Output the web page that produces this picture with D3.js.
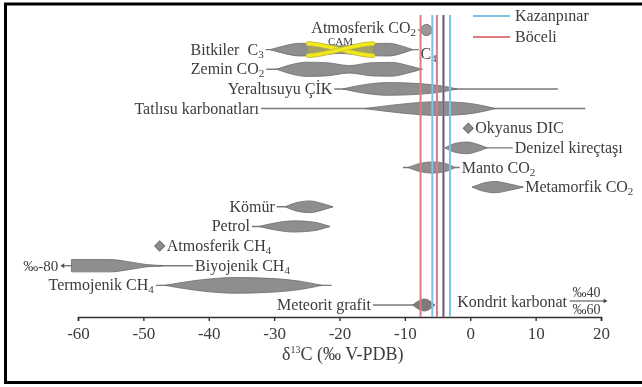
<!DOCTYPE html>
<html>
<head>
<meta charset="utf-8">
<script src="https://cdn.jsdelivr.net/npm/d3@7"></script>
<style>
body { margin: 0; background: #fff; }
text { font-family: "Liberation Serif", "Times New Roman", serif; fill: #3c3c3c; }
</style>
</head>
<body>
<div id="container"></div>
<script>
let w = 642;
let h = 387;

// rows top to bottom
let rows = ["atmCO2", "c3", "soil", "gw", "fresh", "ocean", "lime", "mantle", "meta",
            "coal", "oil", "atmCH4", "bio", "thermo", "meteor"];

// d13C axis ticks
let ticks = [-60, -50, -40, -30, -20, -10, 0, 10, 20];

// whisker lines [row, from, to]
let whiskers = [
  ["atmCO2", -8.0, -6.7],
  ["c3", -31.3, -7.9],
  ["soil", -31.2, -7.3],
  ["gw", -20.8, 13.4],
  ["fresh", -32.0, 17.6],
  ["lime", -3.9, 6.5],
  ["mantle", -10.3, -1.6],
  ["meta", 0.3, 8.1],
  ["coal", -29.6, -21.0],
  ["oil", -33.4, -21.5],
  ["bio", -61.0, -42.4],
  ["thermo", -48.1, -21.2],
  ["meteor", -14.9, -5.4]
];

// distribution profiles [d13C, relative thickness]
let c3Profile = [[-30.6, 0], [-28.5, 0.5], [-26, 0.85], [-23, 0.75], [-20, 0.5], [-16.5, 0.75], [-12.5, 0.85], [-10.5, 0.5], [-8.8, 0]];
let soilProfile = [[-29.6, 0], [-27.5, 0.6], [-25, 0.95], [-22, 0.88], [-18.5, 0.5], [-15, 0.88], [-12, 0.92], [-9.5, 0.5], [-7.4, 0]];
let gwProfile = [[-19.5, 0], [-16, 0.6], [-12.5, 0.85], [-8, 0.72], [-4, 0.35], [-2, 0]];
let freshProfile = [[-16.1, 0], [-11, 0.55], [-5, 0.92], [-1, 0.78], [2, 0.38], [3.8, 0]];
let limeProfile = [[-3.9, 0], [-2.2, 0.62], [-0.5, 0.78], [1.2, 0.45], [2.6, 0]];
let mantleProfile = [[-9.5, 0], [-7.5, 0.58], [-5.8, 0.75], [-4, 0.58], [-2.3, 0]];
let metaProfile = [[0.3, 0], [2.2, 0.58], [3.8, 0.75], [6, 0.42], [8.1, 0]];
let coalProfile = [[-28.3, 0], [-26.5, 0.58], [-24.5, 0.78], [-22.8, 0.48], [-21, 0]];
let oilProfile = [[-32.3, 0], [-29.5, 0.52], [-27, 0.75], [-24, 0.58], [-21.5, 0]];
let bioProfile = [[-61, 0.82], [-55, 0.82], [-52, 0.5], [-49.5, 0.15], [-47, 0.03]];
let thermoProfile = [[-46.7, 0], [-42, 0.65], [-36, 1.05], [-30, 0.9], [-26, 0.55], [-22.7, 0]];
let meteorProfile = [[-8.8, 0], [-7, 0.8], [-5.4, 0]];

let shapes = [
  ["c3", c3Profile], ["soil", soilProfile], ["gw", gwProfile], ["fresh", freshProfile],
  ["lime", limeProfile], ["mantle", mantleProfile], ["meta", metaProfile],
  ["coal", coalProfile], ["oil", oilProfile], ["bio", bioProfile],
  ["thermo", thermoProfile], ["meteor", meteorProfile]
];

// CAM plants range
let cam = [-24.8, -14.9];

// single values
let circles = [["atmCO2", -6.7]];
let diamonds = [["ocean", -0.3], ["atmCH4", -47.5]];

// labels [row, text, subscript, side]
let labels = [
  ["atmCO2", "Atmosferik CO", "2", "left"],
  ["c3", "Bitkiler\u00a0 C", "3", "left"],
  ["soil", "Zemin CO", "2", "left"],
  ["gw", "Yeraltısuyu ÇİK", "", "left"],
  ["fresh", "Tatlısu karbonatları", "", "left"],
  ["ocean", "Okyanus DIC", "", "right"],
  ["lime", "Denizel kireçtaşı", "", "right"],
  ["mantle", "Manto CO", "2", "right"],
  ["meta", "Metamorfik CO", "2", "right"],
  ["coal", "Kömür", "", "left"],
  ["oil", "Petrol", "", "left"],
  ["atmCH4", "Atmosferik CH", "4", "right"],
  ["bio", "Biyojenik CH", "4", "right"],
  ["thermo", "Termojenik CH", "4", "left"],
  ["meteor", "Meteorit grafit", "", "left"]
];

// spring water samples
let kazanpinar = [-5.8, -4.1, -3.1];
let boceli = [-7.6, -5.1, -4.1];

let blue = "#7cc3e6";
let red = "#de7a82";

let svg = d3.select("#container").append("svg")
  .attr("width", w)
  .attr("height", h);

let x = d3.scaleLinear().domain([-60, 20]).range([78, 601]);
let y = d3.scalePoint().domain(rows).range([30, 305]);
let thick = d3.scaleLinear().domain([0, 1]).range([0, 7.5]);

// frame
svg.append("rect")
  .attr("x", 5.5).attr("y", 4)
  .attr("width", 700).attr("height", 378.5)
  .attr("fill", "none")
  .attr("stroke", "#000")
  .attr("stroke-width", 3);

// whiskers
svg.append("g")
  .selectAll("line")
  .data(whiskers)
  .enter()
  .append("line")
  .attr("x1", d => x(d[1]))
  .attr("x2", d => x(d[2]))
  .attr("y1", d => y(d[0]))
  .attr("y2", d => y(d[0]))
  .attr("stroke", "#7a7a7a")
  .attr("stroke-width", 1.4);

// arrow to -80 for biogenic methane
let bioY = y("bio");
svg.append("line")
  .attr("x1", x(-61)).attr("x2", x(-62.4))
  .attr("y1", bioY).attr("y2", bioY)
  .attr("stroke", "#7a7a7a").attr("stroke-width", 1.4);
svg.append("path")
  .attr("d", d3.line()([[x(-62.7), bioY], [x(-62.1), bioY - 2.5], [x(-62.1), bioY + 2.5]]))
  .attr("fill", "#555");
svg.append("text")
  .attr("x", x(-62.7) - 2).attr("y", bioY + 5)
  .attr("text-anchor", "end")
  .style("font-size", "15px")
  .text("‰-80");

// distribution shapes
let area = d3.area()
  .curve(d3.curveMonotoneX);

svg.append("g")
  .selectAll("path")
  .data(shapes)
  .enter()
  .append("path")
  .attr("d", d => area
      .x(p => x(p[0]))
      .y0(p => y(d[0]) - thick(p[1]))
      .y1(p => y(d[0]) + thick(p[1]))(d[1]))
  .attr("fill", d => d[0] === "meteor" ? "#7b7b7b" : "#8e8e8e")
  .attr("stroke", "#6c6c6c")
  .attr("stroke-width", 0.8);

// CAM cross
let c3Y = y("c3");
let camMid = (cam[0] + cam[1]) / 2;
svg.append("path")
  .attr("d", d3.line()([[x(cam[0]), c3Y - 5], [x(camMid), c3Y], [x(cam[0]), c3Y + 5]]) + "Z")
  .attr("fill", "#a6a45c").attr("opacity", 0.8);
svg.append("path")
  .attr("d", d3.line()([[x(cam[1]), c3Y - 5], [x(camMid), c3Y], [x(cam[1]), c3Y + 5]]) + "Z")
  .attr("fill", "#a6a45c").attr("opacity", 0.8);

let arm = d3.line().curve(d3.curveBasis);
[[-1, 1], [1, -1]].forEach(s => {
  let pts = [[x(cam[0]), c3Y + 6 * s[0]], [x(cam[0]) + 9, c3Y + 5.5 * s[0]],
             [x(camMid), c3Y], [x(cam[1]) - 9, c3Y + 5.5 * s[1]], [x(cam[1]), c3Y + 6 * s[1]]];
  svg.append("path").attr("d", arm(pts))
    .attr("fill", "none").attr("stroke", "#c9c23a").attr("stroke-width", 4.8)
    .attr("stroke-linecap", "round");
  svg.append("path").attr("d", arm(pts))
    .attr("fill", "none").attr("stroke", "#f3ea1c").attr("stroke-width", 3)
    .attr("stroke-linecap", "round");
});

svg.append("text")
  .attr("x", x(camMid)).attr("y", c3Y - 5)
  .attr("text-anchor", "middle")
  .style("font-size", "11px")
  .text("CAM");

// C4 label
svg.append("text")
  .attr("x", x(-7.9) + 2).attr("y", c3Y + 9)
  .style("font-size", "16px")
  .text("C")
  .append("tspan").attr("dy", 3).style("font-size", "11px").text("4");

// circle and diamonds
svg.selectAll("circle.pt")
  .data(circles)
  .enter()
  .append("circle")
  .attr("class", "pt")
  .attr("cx", d => x(d[1]))
  .attr("cy", d => y(d[0]))
  .attr("r", 5.5)
  .attr("fill", "#999")
  .attr("stroke", "#6c6c6c");

svg.selectAll("path.dia")
  .data(diamonds)
  .enter()
  .append("path")
  .attr("class", "dia")
  .attr("d", d3.symbol(d3.symbolSquare, 50))
  .attr("transform", d => `translate(${x(d[1])},${y(d[0])}) rotate(45)`)
  .attr("fill", "#8e8e8e")
  .attr("stroke", "#6c6c6c");

// labels
let ends = {};
whiskers.forEach(d => ends[d[0]] = [d[1], d[2]]);
diamonds.forEach(d => ends[d[0]] = [d[1], d[1]]);

let lab = svg.append("g")
  .selectAll("text")
  .data(labels)
  .enter()
  .append("text")
  .attr("x", d => {
    let e = ends[d[0]];
    if (diamonds.some(p => p[0] === d[0])) return x(e[1]) + 7;
    return d[3] === "left" ? x(e[0]) - 2 : x(e[1]) + 2;
  })
  .attr("y", d => y(d[0]) + (d[0] === "atmCO2" ? 3 : 5))
  .attr("text-anchor", d => d[3] === "left" ? "end" : "start")
  .style("font-size", "16px")
  .text(d => d[1]);

lab.filter(d => d[2] !== "")
  .append("tspan")
  .attr("dy", 3)
  .style("font-size", "11px")
  .text(d => d[2]);

// Kondrit karbonat (off scale, +40 to +60)
let metY = y("meteor");
svg.append("text")
  .attr("x", x(-2)).attr("y", metY + 2)
  .style("font-size", "16px")
  .text("Kondrit karbonat");
svg.append("line")
  .attr("x1", x(15.2)).attr("x2", x(20.6))
  .attr("y1", metY - 4).attr("y2", metY - 4)
  .attr("stroke", "#444").attr("stroke-width", 1.2);
svg.append("path")
  .attr("d", d3.line()([[x(21), metY - 4], [x(20.4), metY - 6.3], [x(20.4), metY - 1.7]]))
  .attr("fill", "#444");
svg.append("text")
  .attr("x", x(17.8)).attr("y", metY - 8)
  .attr("text-anchor", "middle")
  .style("font-size", "14px")
  .text("‰40");
svg.append("text")
  .attr("x", x(17.8)).attr("y", metY + 9)
  .attr("text-anchor", "middle")
  .style("font-size", "14px")
  .text("‰60");

// axis
let axisY = 317;
let xAxis = d3.axisBottom(x)
  .tickValues(ticks)
  .tickSize(4)
  .tickPadding(6)
  .tickFormat(d => String(d));

let ax = svg.append("g")
  .attr("transform", `translate(0,${axisY})`)
  .call(xAxis);
ax.select(".domain").attr("stroke", "#333").attr("stroke-width", 1.6);
ax.selectAll(".tick line").attr("stroke", "#333").attr("stroke-width", 1.4);
ax.selectAll(".tick text")
  .attr("fill", "#3c3c3c")
  .style("font-family", "'Liberation Serif', serif")
  .style("font-size", "17px");

let title = svg.append("text")
  .attr("x", x(-19.5)).attr("y", axisY + 43)
  .attr("text-anchor", "middle")
  .style("font-size", "18px");
title.append("tspan").text("δ");
title.append("tspan").attr("dy", -7).style("font-size", "10px").text("13");
title.append("tspan").attr("dy", 7).text("C (‰ V-PDB)");

// sample lines
let sampleG = svg.append("g").style("isolation", "isolate");
sampleG.selectAll("line.k")
  .data(kazanpinar)
  .enter()
  .append("line")
  .attr("class", "k")
  .attr("x1", d => x(d)).attr("x2", d => x(d))
  .attr("y1", 15).attr("y2", axisY)
  .attr("stroke", blue)
  .attr("stroke-width", 2)
  .style("mix-blend-mode", "multiply");
sampleG.selectAll("line.b")
  .data(boceli)
  .enter()
  .append("line")
  .attr("class", "b")
  .attr("x1", d => x(d)).attr("x2", d => x(d))
  .attr("y1", 15).attr("y2", axisY)
  .attr("stroke", red)
  .attr("stroke-width", 2)
  .style("mix-blend-mode", "multiply");

// legend
let legend = svg.append("g");
[["Kazanpınar", blue], ["Böceli", red]].forEach((d, i) => {
  legend.append("line")
    .attr("x1", 473).attr("x2", 510)
    .attr("y1", 16 + i * 21).attr("y2", 16 + i * 21)
    .attr("stroke", d[1]).attr("stroke-width", 2);
  legend.append("text")
    .attr("x", 515).attr("y", 21 + i * 21)
    .style("font-size", "16px")
    .text(d[0]);
});
</script>
</body>
</html>
